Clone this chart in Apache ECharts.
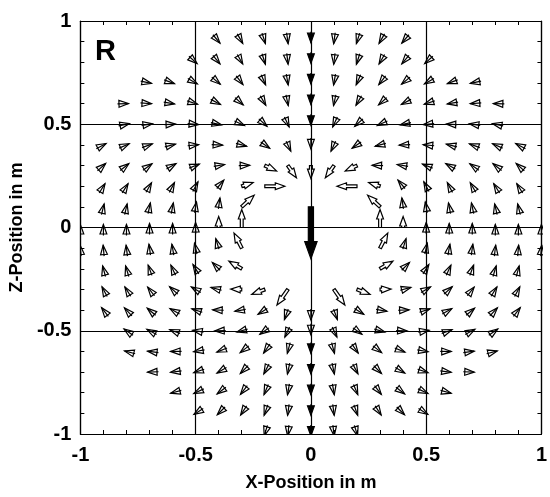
<!DOCTYPE html>
<html><head><meta charset="utf-8">
<script src="https://cdn.jsdelivr.net/npm/echarts/dist/echarts.min.js"></script>
<style>html,body{margin:0;padding:0;background:#fff}#c{width:550px;height:497px}</style>
</head><body><div id="c"></div>
<script>
// ---- data (grid spacing 0.1 m) ----
// row z positions and first x of each row
const rowZ      = [0.9, 0.8, 0.7, 0.6, 0.5, 0.4, 0.3, 0.2, 0.1, 0.0, -0.1, -0.2, -0.3, -0.4, -0.5, -0.6, -0.7, -0.8, -0.9, -1.0];
const rowXStart = [-0.4, -0.5, -0.7, -0.8, -0.8, -0.9, -0.9, -0.9, -0.9, -1.0, -1.0, -0.9, -0.9, -0.9, -0.8, -0.8, -0.7, -0.6, -0.5, -0.2];
// vector direction (degrees, 0 = +x, 90 = +z), null = no vector
const ang_p09 = [-50,-60,-72,-82,-90,262,252,240,230];
const ang_p08 = [-42,-50,-60,-72,-83,-90,263,252,240,230,222];
const ang_p07 = [-12,-20,-30,-40,-52,-66,-80,-90,260,246,232,220,210,200,192];
const ang_p06 = [2,-4,-10,-18,-28,-42,-60,-78,-90,258,240,222,208,198,190,184,178];
const ang_p05 = [12,8,2,-5,-12,-24,-42,-65,-90,245,222,204,192,185,178,172,168];
const ang_p04 = [28,24,20,14,6,-3,-15,-35,-65,-90,245,215,195,183,174,166,160,156,152];
const ang_p03 = [42,38,35,30,22,10,2,-25,-55,-90,235,205,178,170,158,150,145,142,138];
const ang_p02 = [58,58,60,62,62,50,18,0,null,null,null,180,162,130,118,118,120,122,122];
const ang_p01 = [76,77,78,79,80,82,43,null,null,-90,null,null,137,98,100,101,102,103,104];
const ang_000 = [90,90,90,90,90,91,90,90,null,null,null,null,null,90,90,89,90,90,90,90,90];
const ang_m01 = [95,95,97,98,100,103,107,117,null,null,null,null,null,63,73,77,80,82,83,85,85];
const ang_m02 = [105,107,110,115,122,135,149,null,null,null,null,null,31,45,58,65,70,73,75];
const ang_m03 = [118,122,128,138,150,165,178,201,235,null,-55,-21,2,15,30,42,52,58,62];
const ang_m04 = [128,133,140,150,162,178,190,212,250,-90,-70,-32,-10,2,18,30,40,47,52];
const ang_m05 = [145,152,160,170,182,195,215,245,-90,-65,-35,-15,-2,10,20,28,35];
const ang_m06 = [165,172,180,190,202,218,235,255,-90,-75,-55,-38,-22,-10,0,8,15];
const ang_m07 = [182,188,198,210,225,242,258,-90,-78,-62,-45,-30,-18,-8,-2];
const ang_m08 = [195,205,217,232,247,260,-90,-80,-67,-52,-37,-25,-15];
const ang_m09 = [212,225,237,250,262,-90,-82,-70,-57,-45,-32];
const ang_m10 = [253,263,-90,-83,-73];
// vector magnitude (arrow length, screen px)
const len_p09 = [2,2,2,2,1,2,2,2,2];
const len_p08 = [2,2,2,2,2,1,2,2,2,2,2];
const len_p07 = [2,2,2,2,2,2,2,1,2,2,2,2,2,2,2];
const len_p06 = [2,2,2,2,2,2,2,2,1,2,2,2,2,2,2,2,2];
const len_p05 = [3,3,3,3,3,3,3,3,1,3,3,3,3,3,3,3,3];
const len_p04 = [3,3,3,3,3,4,5,6,7,4,7,6,5,4,3,3,3,3,3];
const len_p03 = [3,3,3,4,4,6,8,13,15,13,15,13,8,6,4,4,3,3,3];
const len_p02 = [3,3,4,4,5,8,12,20,null,null,null,20,12,8,5,4,4,3,3];
const len_p01 = [3,3,4,4,5,9,17,null,null,52,null,null,17,9,5,4,4,3,3];
const len_000 = [3,3,3,4,4,5,11,18,null,null,null,null,null,18,11,5,4,4,3,3,3];
const len_m01 = [3,3,3,4,4,5,10,17,null,null,null,null,null,17,10,5,4,4,3,3,3];
const len_m02 = [3,3,4,4,5,9,15,null,null,null,null,null,15,9,5,4,4,3,3];
const len_m03 = [3,3,3,4,5,8,11,14,19,null,19,14,11,8,5,4,3,3,3];
const len_m04 = [3,3,3,3,4,6,7,8,10,10,10,8,7,6,4,3,3,3,3];
const len_m05 = [3,3,3,3,4,5,6,7,4,7,6,5,4,3,3,3,3];
const len_m06 = [2,2,2,2,2,2,2,2,2,2,2,2,2,2,2,2,2];
const len_m07 = [2,2,2,2,2,2,2,2,2,2,2,2,2,2,2];
const len_m08 = [2,2,2,2,2,2,2,2,2,2,2,2,2];
const len_m09 = [2,2,2,2,2,2,2,2,2,2,2];
const len_m10 = [2,2,2,2,2];
const xTicks = [-1, -0.5, 0, 0.5, 1];
const zTicks = [-1, -0.5, 0, 0.5, 1];

const rowAng = [ang_p09,ang_p08,ang_p07,ang_p06,ang_p05,ang_p04,ang_p03,ang_p02,ang_p01,ang_000,
                ang_m01,ang_m02,ang_m03,ang_m04,ang_m05,ang_m06,ang_m07,ang_m08,ang_m09,ang_m10];
const rowLen = [len_p09,len_p08,len_p07,len_p06,len_p05,len_p04,len_p03,len_p02,len_p01,len_000,
                len_m01,len_m02,len_m03,len_m04,len_m05,len_m06,len_m07,len_m08,len_m09,len_m10];

const data = [];
rowZ.forEach((z, r) => {
  rowAng[r].forEach((a, i) => {
    if (a === null) return;
    const x = Math.round((rowXStart[r] + 0.1 * i) * 10) / 10;
    data.push([x, z, a, rowLen[r][i]]);
  });
});

function renderArrow(params, api) {
  const x = api.value(0), z = api.value(1);
  const a = api.value(2) * Math.PI / 180, L = api.value(3);
  const P = api.coord([x, z]);
  const dx = Math.cos(a), dy = -Math.sin(a);
  const nx = -dy, ny = dx;
  const H = Math.max(9.5, 0.33 * L);
  const hw = H * 0.36;
  const sw = Math.max(1.4, 0.15 * H);
  const T = [P[0] + dx * L, P[1] + dy * L];
  const B = [T[0] - dx * H, T[1] - dy * H];
  const solid = (x === 0) && (L <= 3 || L >= 40);
  const st = { fill: solid ? '#000' : 'transparent', stroke: '#000', lineWidth: 1.2 };
  if (L > H + 0.5) {
    const pts = [[P[0] + nx * sw, P[1] + ny * sw], [B[0] + nx * sw, B[1] + ny * sw], [B[0] + nx * hw, B[1] + ny * hw], T,
           [B[0] - nx * hw, B[1] - ny * hw], [B[0] - nx * sw, B[1] - ny * sw], [P[0] - nx * sw, P[1] - ny * sw]];
    return { type: 'polygon', shape: { points: pts }, style: st };
  }
  const pts = [[B[0] + nx * hw, B[1] + ny * hw], T, [B[0] - nx * hw, B[1] - ny * hw]];
  return { type: 'group', children: [
    { type: 'polygon', shape: { points: pts }, style: st },
    { type: 'line', shape: { x1: B[0] - dx * 1.5, y1: B[1] - dy * 1.5, x2: T[0], y2: T[1] },
      style: { stroke: '#000', lineWidth: 1.2 } }
  ]};
}

const FF = 'Liberation Sans, Arial, sans-serif';
const labelFont = { fontFamily: FF, fontWeight: 'bold', fontSize: 20, color: '#000' };
const axisCommon = {
  type: 'value', min: -1, max: 1, interval: 0.5,
  axisLine: { show: true, onZero: false, lineStyle: { color: '#000', width: 1.2 } },
  axisTick: { show: true, inside: true, length: 6, lineStyle: { color: '#000' } },
  minorTick: { show: true, splitNumber: 5, length: 4, lineStyle: { color: '#000' } },
  splitLine: { show: false }
};

const chart = echarts.init(document.getElementById('c'), null, { renderer: 'canvas' });
chart.setOption({
  animation: false,
  backgroundColor: '#fff',
  grid: { left: 76, right: 2, top: 21, bottom: 60 },
  xAxis: [
    Object.assign({}, axisCommon, {
      position: 'bottom',
      name: 'X-Position in m', nameLocation: 'middle', nameGap: 40,
      nameTextStyle: { fontFamily: FF, fontWeight: 'bold', fontSize: 18, color: '#000' },
      axisLabel: Object.assign({ margin: 11, formatter: v => (xTicks.indexOf(v) >= 0 ? String(v) : '') }, labelFont),
      splitLine: { show: true, lineStyle: { color: '#000', width: 1.2 } }
    }),
    Object.assign({}, axisCommon, { position: 'top', axisLabel: { show: false } })
  ],
  yAxis: [
    Object.assign({}, axisCommon, {
      position: 'left',
      name: 'Z-Position in m', nameLocation: 'middle', nameGap: 49,
      nameTextStyle: { fontFamily: FF, fontWeight: 'bold', fontSize: 18, color: '#000' },
      axisLabel: Object.assign({ margin: 9, formatter: v => (zTicks.indexOf(v) >= 0 ? String(v) : '') }, labelFont),
      splitLine: { show: true, lineStyle: { color: '#000', width: 1.2 } }
    }),
    Object.assign({}, axisCommon, { position: 'right', axisLabel: { show: false } })
  ],
  graphic: [{
    type: 'text', left: 95, top: 37,
    style: { text: 'R', fontFamily: FF, fontWeight: 'bold', fontSize: 29, fill: '#000' }
  }],
  series: [{
    type: 'custom', xAxisIndex: 0, yAxisIndex: 0, clip: true,
    renderItem: renderArrow,
    data: data
  }]
});
</script></body></html>
